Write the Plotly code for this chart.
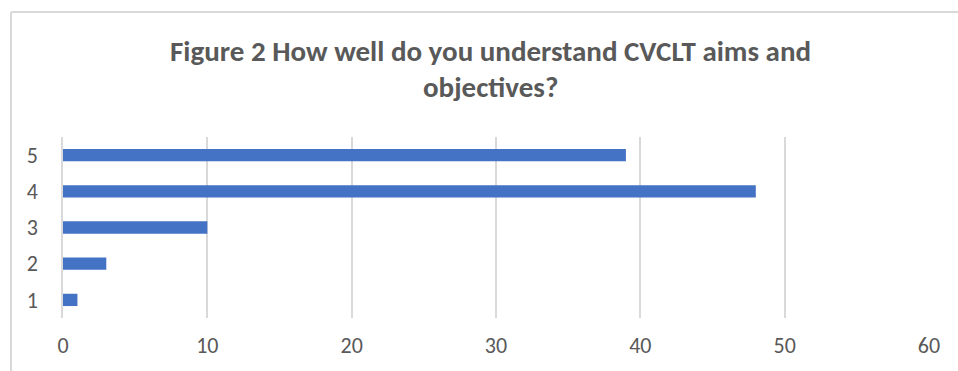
import plotly.graph_objects as go

# Survey responses: rating (1-5) and number of respondents
ratings = ["1", "2", "3", "4", "5"]
counts = [1, 3, 10, 48, 39]
x_ticks = [0, 10, 20, 30, 40, 50, 60]

title_lines = [
    "Figure 2 How well do you understand CVCLT aims and",
    "objectives?",
]

W, H = 958, 371
ml, mr, mt, mb = 63, 29, 137, 53
pw = W - ml - mr
ph = H - mt - mb

fig = go.Figure(
    go.Bar(
        x=counts,
        y=ratings,
        orientation="h",
        marker=dict(color="#4472C4", line=dict(width=0)),
        width=0.34,
    )
)

font_family = "Carlito, Calibri, Lato, 'Open Sans', sans-serif"

fig.update_layout(
    width=W,
    height=H,
    margin=dict(l=ml, r=mr, t=mt, b=mb, autoexpand=False),
    paper_bgcolor="white",
    plot_bgcolor="white",
    showlegend=False,
    font=dict(family=font_family, color="#595959", size=22),
)

# Two-line bold title, each line placed in pixel terms
for line, y_px in zip(title_lines, [51, 87]):
    fig.add_annotation(
        text="<b>" + line + "</b>",
        xref="paper", yref="paper",
        x=(490 - ml) / pw,
        y=1 + (mt - y_px) / ph,
        xanchor="center", yanchor="middle",
        showarrow=False,
        font=dict(family=font_family, size=29, color="#595959"),
    )

fig.update_xaxes(
    range=[0, 60],
    tickvals=x_ticks,
    automargin=False,
    showgrid=True,
    gridcolor="#D9D9D9",
    gridwidth=1.5,
    zeroline=False,
    showline=False,
    ticks="",
    ticklabelstandoff=12,
    tickfont=dict(family=font_family, size=22, color="#595959"),
)
fig.update_yaxes(
    type="category",
    categoryorder="array",
    categoryarray=ratings,
    automargin=False,
    showgrid=False,
    zeroline=False,
    showline=True,
    linecolor="#D9D9D9",
    linewidth=1.5,
    ticks="",
    ticklabelstandoff=19,
    tickfont=dict(family=font_family, size=22, color="#595959"),
)

# Outer chart frame (left and top edges visible)
fx0 = (11 - ml) / pw
fy_top = 1 + (mt - 12) / ph
fig.add_shape(type="line", xref="paper", yref="paper",
              x0=fx0, x1=fx0, y0=-1, y1=fy_top,
              line=dict(color="#D9D9D9", width=2))
fig.add_shape(type="line", xref="paper", yref="paper",
              x0=fx0, x1=2, y0=fy_top, y1=fy_top,
              line=dict(color="#D9D9D9", width=2))

fig.write_html("out.html")
